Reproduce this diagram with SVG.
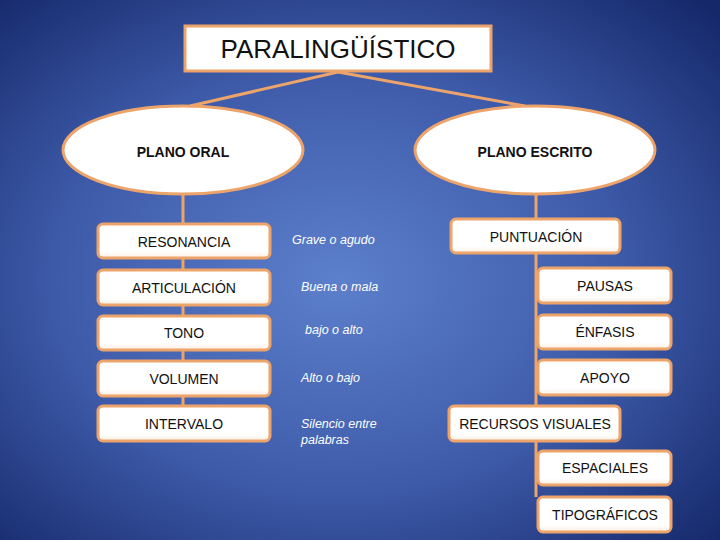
<svg xmlns="http://www.w3.org/2000/svg" width="720" height="540" viewBox="0 0 720 540">
<defs>
<radialGradient id="bg" cx="0.47" cy="0.52" r="0.72">
<stop offset="0" stop-color="#5d80cc"/>
<stop offset="0.55" stop-color="#3d5aa8"/>
<stop offset="1" stop-color="#15286a"/>
</radialGradient>
<linearGradient id="boxfill" x1="0" y1="0" x2="0" y2="1">
<stop offset="0" stop-color="#ffffff"/>
<stop offset="0.8" stop-color="#ffffff"/>
<stop offset="1" stop-color="#fbeee2"/>
</linearGradient>
<style>
.box{fill:url(#boxfill);stroke:#eda46a;stroke-width:3}
.ell{fill:#ffffff;stroke:#eda46a;stroke-width:3}
.con{stroke:#eda46a;stroke-width:3;fill:none}
.t{font-family:"Liberation Sans",Arial,sans-serif;font-size:14px;fill:#111;text-anchor:middle}
.b{font-weight:bold}
.i{font-family:"Liberation Sans",Arial,sans-serif;font-size:12.5px;font-style:italic;fill:#ffffff}
</style>
</defs>
<rect width="720" height="540" fill="url(#bg)"/>
<g id="connectors">
<polyline class="con" points="190,106 338,72 525,106"/>
<line class="con" x1="183" y1="194" x2="183" y2="406"/>
<line class="con" x1="536" y1="194" x2="536" y2="219"/>
<line class="con" x1="536" y1="253" x2="536" y2="406"/>
<line class="con" x1="536" y1="441" x2="536" y2="497"/>
</g>
<g id="title">
<rect x="185" y="26" width="306" height="45" fill="#ffffff" stroke="#eda46a" stroke-width="3"/>
<text class="t" x="338" y="58" style="font-size:26px">PARALINGÜÍSTICO</text>
</g>
<g id="plano-oral">
<ellipse class="ell" cx="183" cy="150" rx="120" ry="44"/>
<text class="t b" x="183" y="157">PLANO ORAL</text>
</g>
<g id="plano-escrito">
<ellipse class="ell" cx="535" cy="150" rx="120" ry="44"/>
<text class="t b" x="535" y="157">PLANO ESCRITO</text>
</g>
<g id="resonancia">
<rect class="box" x="98" y="224" width="172" height="34" rx="5"/>
<text class="t" x="184" y="247">RESONANCIA</text>
</g>
<g id="articulacion">
<rect class="box" x="98" y="270" width="172" height="35" rx="5"/>
<text class="t" x="184" y="293">ARTICULACIÓN</text>
</g>
<g id="tono">
<rect class="box" x="98" y="316" width="172" height="34" rx="5"/>
<text class="t" x="184" y="338">TONO</text>
</g>
<g id="volumen">
<rect class="box" x="98" y="361" width="172" height="35" rx="5"/>
<text class="t" x="184" y="384">VOLUMEN</text>
</g>
<g id="intervalo">
<rect class="box" x="98" y="406" width="172" height="35" rx="5"/>
<text class="t" x="184" y="429">INTERVALO</text>
</g>
<g id="labels">
<text class="i" x="292" y="244">Grave o agudo</text>
<text class="i" x="301" y="291">Buena o mala</text>
<text class="i" x="305" y="334">bajo o alto</text>
<text class="i" x="301" y="382">Alto o bajo</text>
<text class="i" x="301" y="428">Silencio entre</text>
<text class="i" x="301" y="444">palabras</text>
</g>
<g id="puntuacion">
<rect class="box" x="451" y="219" width="169" height="34" rx="5"/>
<text class="t" x="536" y="242">PUNTUACIÓN</text>
</g>
<g id="pausas">
<rect class="box" x="538" y="268" width="133" height="35" rx="5"/>
<text class="t" x="605" y="291">PAUSAS</text>
</g>
<g id="enfasis">
<rect class="box" x="538" y="315" width="133" height="34" rx="5"/>
<text class="t" x="605" y="337">ÉNFASIS</text>
</g>
<g id="apoyo">
<rect class="box" x="538" y="360" width="133" height="35" rx="5"/>
<text class="t" x="605" y="383">APOYO</text>
</g>
<g id="recursos-visuales">
<rect class="box" x="449" y="406" width="171" height="35" rx="5"/>
<text class="t" x="535" y="429">RECURSOS VISUALES</text>
</g>
<g id="espaciales">
<rect class="box" x="538" y="451" width="133" height="34" rx="5"/>
<text class="t" x="605" y="473">ESPACIALES</text>
</g>
<g id="tipograficos">
<rect class="box" x="538" y="497" width="133" height="35" rx="5"/>
<text class="t" x="605" y="520">TIPOGRÁFICOS</text>
</g>
</svg>
